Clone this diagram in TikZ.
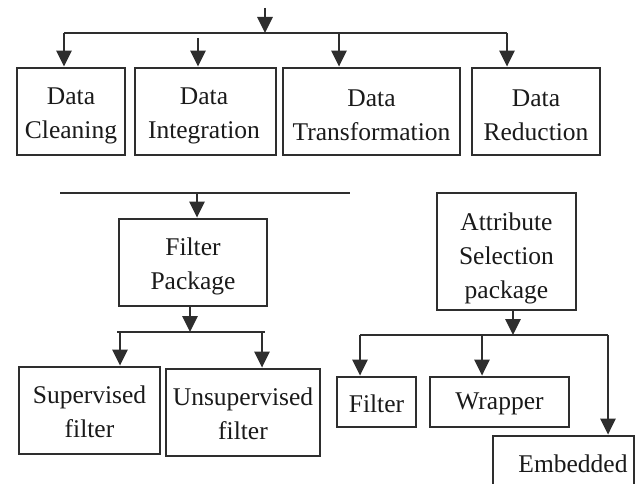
\documentclass[tikz,border=0pt]{standalone}
\usepackage{fontspec}
\setmainfont{Liberation Serif}
\usetikzlibrary{arrows.meta}
\definecolor{lnc}{HTML}{2E2E2E}
\definecolor{txc}{HTML}{1A1A1A}
\tikzset{
  frame/.style={draw=lnc, line width=2.7pt, inner sep=0pt},
  lbl/.style={inner sep=0pt, align=center, text=txc,
    font=\fontsize{25.5}{34}\selectfont},
  conn/.style={draw=lnc, line width=2.7pt},
  arr/.style={conn, -{Triangle[width=15pt,length=16pt]}}
}
\begin{document}
\begin{tikzpicture}[x=1pt,y=-1pt]
\useasboundingbox (0,0) rectangle (637,484);
\clip (0,0) rectangle (637,484);
\fill[white] (0,0) rectangle (637,484);
% top row boxes
\node[frame, minimum width=108pt, minimum height=87pt] (dc) at (71,111.5) {};
\node[lbl] (dct) at (71,115.5) {Data\\Cleaning};
\node[frame, minimum width=141pt, minimum height=87pt] (di) at (205.5,111.5) {};
\node[lbl] (dit) at (204,115.5) {Data\\Integration};
\node[frame, minimum width=177pt, minimum height=87pt] (dt) at (371.5,111.5) {};
\node[lbl] (dtt) at (371.5,115.5) {Data\\Transformation};
\node[frame, minimum width=128pt, minimum height=87pt] (dr) at (536,111.5) {};
\node[lbl] (drt) at (536,115.5) {Data\\Reduction};
% top connectors
\coordinate (top) at (265,8);
\coordinate (tb) at (265,33);
\coordinate (tl) at (64,33);
\coordinate (tr) at (507,33);
\coordinate (ti) at (198,38);
\coordinate (tt) at (339,33);
\draw[conn] (tl) -- (tr);
\draw[arr] (top) -- (tb);
\draw[arr] (tl) -- (tl |- dc.north);
\draw[arr] (ti) -- (ti |- di.north);
\draw[arr] (tt) -- (tt |- dt.north);
\draw[arr] (tr) -- (tr |- dr.north);
% filter package branch
\node[frame, minimum width=148pt, minimum height=87pt] (fp) at (193,262.5) {};
\node[lbl] (fpt) at (193,266.5) {Filter\\Package};
\node[frame, minimum width=141pt, minimum height=87pt] (sf) at (89.5,410.5) {};
\node[lbl] (sft) at (89.5,412) {Supervised\\filter};
\node[frame, minimum width=154pt, minimum height=87pt] (uf) at (243,412.5) {};
\node[lbl] (uft) at (243,413.5) {Unsupervised\\filter};
\coordinate (ml) at (60,193);
\coordinate (mr) at (350,193);
\coordinate (mf) at (197,193);
\draw[conn] (ml) -- (mr);
\draw[arr] (mf) -- (mf |- fp.north);
\coordinate (fs) at (190,306);
\coordinate (fb) at (190,332);
\coordinate (fl) at (117,332);
\coordinate (fr) at (265,332);
\coordinate (fsl) at (120,332);
\coordinate (fsr) at (262,332);
\draw[conn] (fl) -- (fr);
\draw[arr] (fs) -- (fb);
\draw[arr] (fsl) -- (fsl |- sf.north);
\draw[arr] (fsr) -- (fsr |- uf.north);
% attribute selection branch
\node[frame, minimum width=139pt, minimum height=117pt] (asp) at (506.5,251.5) {};
\node[lbl] (aspt) at (506.5,258) {Attribute\\Selection\\package};
\node[frame, minimum width=79pt, minimum height=50pt] (fi) at (376.5,402) {};
\node[lbl] (fit) at (376.5,404) {Filter};
\node[frame, minimum width=139pt, minimum height=50pt] (wr) at (499.5,402) {};
\node[lbl] (wrt) at (499.5,404) {Wrapper};
\node[frame, minimum width=141pt, minimum height=58pt] (em) at (563.5,465) {};
\node[lbl] (emt) at (573,464) {Embedded};
\coordinate (as) at (513,310);
\coordinate (ab) at (513,335);
\coordinate (al) at (360,335);
\coordinate (ar) at (608,335);
\coordinate (aw) at (482,335);
\draw[conn] (al) -- (ar);
\draw[arr] (as) -- (ab);
\draw[arr] (al) -- (al |- fi.north);
\draw[arr] (aw) -- (aw |- wr.north);
\draw[arr] (ar) -- (ar |- em.north);
\end{tikzpicture}
\end{document}
